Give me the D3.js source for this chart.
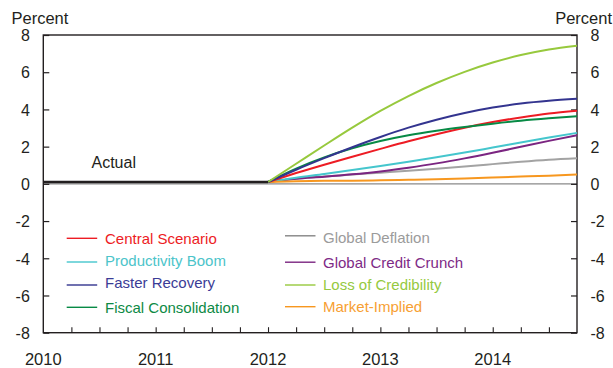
<!DOCTYPE html>
<html>
<head>
<meta charset="utf-8">
<script src="https://cdn.jsdelivr.net/npm/d3@7"></script>
<style>
  html, body { margin: 0; padding: 0; background: #fff; }
  svg { display: block; font-family: Arial, "Liberation Sans", Helvetica, sans-serif; }
</style>
</head>
<body>
<svg id="chart" width="613" height="368"></svg>
<script>
// Quarterly dates (decimal years)
const actualDates = [2010, 2010.25, 2010.5, 2010.75, 2011, 2011.25, 2011.5, 2011.75, 2012];
const actualValues = [0.1, 0.1, 0.1, 0.1, 0.1, 0.1, 0.1, 0.1, 0.1];

const projDates = [2012, 2012.25, 2012.5, 2012.75, 2013, 2013.25, 2013.5, 2013.75, 2014, 2014.25, 2014.5, 2014.75];

const centralScenario     = [0.1, 0.58, 1.03, 1.46, 1.88, 2.29, 2.67, 3.02, 3.32, 3.57, 3.78, 3.93];
const productivityBoom    = [0.1, 0.33, 0.53, 0.74, 0.96, 1.19, 1.43, 1.68, 1.95, 2.22, 2.49, 2.74];
const fasterRecovery      = [0.1, 0.76, 1.38, 1.97, 2.52, 3.02, 3.45, 3.81, 4.10, 4.32, 4.47, 4.57];
const fiscalConsolidation = [0.1, 0.82, 1.42, 1.91, 2.30, 2.61, 2.85, 3.05, 3.23, 3.39, 3.52, 3.63];
const globalDeflation     = [0.1, 0.28, 0.40, 0.50, 0.60, 0.70, 0.81, 0.93, 1.06, 1.19, 1.30, 1.38];
const globalCreditCrunch  = [0.1, 0.27, 0.38, 0.51, 0.67, 0.87, 1.10, 1.37, 1.67, 1.99, 2.31, 2.61];
const lossOfCredibility   = [0.1, 1.08, 2.06, 3.02, 3.92, 4.72, 5.42, 6.02, 6.52, 6.92, 7.22, 7.42];
const marketImplied       = [0.1, 0.14, 0.16, 0.17, 0.19, 0.22, 0.25, 0.29, 0.34, 0.39, 0.44, 0.50];

const yTicks = [8, 6, 4, 2, 0, -2, -4, -6, -8];
const yearTicks = [2010, 2011, 2012, 2013, 2014];
const quarterTicks = [2010.25, 2010.5, 2010.75, 2011, 2011.25, 2011.5, 2011.75, 2012, 2012.25, 2012.5, 2012.75,
                      2013, 2013.25, 2013.5, 2013.75, 2014, 2014.25, 2014.5];

const seriesNames  = ["Central Scenario", "Productivity Boom", "Faster Recovery", "Fiscal Consolidation",
                      "Global Deflation", "Global Credit Crunch", "Loss of Credibility", "Market-Implied"];
const seriesValues = [centralScenario, productivityBoom, fasterRecovery, fiscalConsolidation,
                      globalDeflation, globalCreditCrunch, lossOfCredibility, marketImplied];
const lineColors = ["#ed1c24", "#45c6cd", "#33348f", "#078a45", "#a3a3a3", "#7b2581", "#97c93d", "#f7971f"];
const legendLineColors = ["#ed1c24", "#45c6cd", "#33348f", "#078a45", "#858585", "#7b2581", "#97c93d", "#f7971f"];
const textColors = ["#ed1c24", "#4cc4ca", "#3b3c96", "#0d8a45", "#9b9b9b", "#7e2a86", "#95c940", "#f7a033"];

const svg = d3.select("#chart");
const plotLeft = 43.3, plotRight = 577, plotTop = 35, plotBottom = 332.7;
const axisColor = "#231f20";

const x = d3.scaleLinear().domain([2010, 2014.75]).range([plotLeft, plotRight]);
const y = d3.scaleLinear().domain([-8, 8]).range([plotBottom, plotTop]);

// zero line
svg.append("line")
  .attr("x1", plotLeft).attr("x2", plotRight)
  .attr("y1", y(0)).attr("y2", y(0))
  .attr("stroke", "#8a8a8a").attr("stroke-width", 1.2);

// frame
svg.append("rect")
  .attr("x", plotLeft).attr("y", plotTop)
  .attr("width", plotRight - plotLeft).attr("height", plotBottom - plotTop)
  .attr("fill", "none").attr("stroke", axisColor).attr("stroke-width", 1.4);

// left axis
const yLeft = d3.axisLeft(y).tickValues(yTicks).tickSize(-6).tickPadding(0);
const gl = svg.append("g").attr("transform", `translate(${plotLeft},0)`).call(yLeft);
gl.select(".domain").remove();
gl.selectAll(".tick line").attr("stroke", axisColor).attr("stroke-width", 1.2);
gl.selectAll(".tick text")
  .attr("x", 29.8 - plotLeft).attr("dy", "0.36em")
  .attr("text-anchor", "end")
  .attr("font-size", 16).attr("fill", axisColor)
  .attr("font-family", "Arial, 'Liberation Sans', sans-serif")
  .text(d => d < 0 ? "-" + Math.abs(d) : d);

// right axis
const yRight = d3.axisRight(y).tickValues(yTicks).tickSize(-6).tickPadding(0);
const gr = svg.append("g").attr("transform", `translate(${plotRight},0)`).call(yRight);
gr.select(".domain").remove();
gr.selectAll(".tick line").attr("stroke", axisColor).attr("stroke-width", 1.2);
gr.selectAll(".tick text")
  .attr("x", 590.5 - plotRight).attr("dy", "0.36em")
  .attr("text-anchor", "start")
  .attr("font-size", 16).attr("fill", axisColor)
  .attr("font-family", "Arial, 'Liberation Sans', sans-serif")
  .text(d => d < 0 ? "-" + Math.abs(d) : d);

// bottom axis: quarterly ticks pointing up, year labels
const xAxis = d3.axisBottom(x).tickValues(quarterTicks).tickSize(-5.5).tickFormat("");
const gx = svg.append("g").attr("transform", `translate(0,${plotBottom})`).call(xAxis);
gx.select(".domain").remove();
gx.selectAll(".tick line").attr("stroke", axisColor).attr("stroke-width", 1.1);

svg.append("g").selectAll("text").data(yearTicks).join("text")
  .attr("x", d => x(d)).attr("y", 365)
  .attr("text-anchor", "middle")
  .attr("font-size", 16.5).attr("fill", axisColor)
  .text(d => d);

// unit labels
svg.append("text").attr("x", 11.5).attr("y", 24).attr("font-size", 16.5).attr("fill", axisColor).text("Percent");
svg.append("text").attr("x", 612).attr("y", 24).attr("text-anchor", "end").attr("font-size", 16.5).attr("fill", axisColor).text("Percent");

// projection lines
const line = d3.line().x(d => x(d[0])).y(d => y(d[1])).curve(d3.curveMonotoneX);
const drawOrder = [4, 5, 1, 7, 0, 3, 2, 6];
svg.append("g").selectAll("path").data(drawOrder).join("path")
  .attr("d", i => line(projDates.map((t, k) => [t, seriesValues[i][k]])))
  .attr("fill", "none")
  .attr("stroke", i => lineColors[i])
  .attr("stroke-width", 2);

// actual data
svg.append("path")
  .attr("d", line(actualDates.map((t, k) => [t, actualValues[k]])))
  .attr("fill", "none").attr("stroke", axisColor).attr("stroke-width", 2.4);

svg.append("text").attr("x", 91.5).attr("y", 168).attr("font-size", 16).attr("fill", axisColor).text("Actual");

// legend
const legendPos = [
  {lx: 66.7, tx: 105, ly: 238.3, ty: 238.3},
  {lx: 66.7, tx: 105, ly: 262, ty: 261},
  {lx: 66.7, tx: 105, ly: 285, ty: 282.5},
  {lx: 66.7, tx: 105, ly: 307.3, ty: 307.7},
  {lx: 285, tx: 323, ly: 235.8, ty: 237.3},
  {lx: 285, tx: 323, ly: 262.2, ty: 262.7},
  {lx: 285, tx: 323, ly: 285, ty: 284.3},
  {lx: 285, tx: 323, ly: 306.7, ty: 306.7}
];
const lg = svg.append("g").selectAll("g").data(seriesNames).join("g");
lg.append("line")
  .attr("x1", (d, i) => legendPos[i].lx).attr("x2", (d, i) => legendPos[i].lx + 30.5)
  .attr("y1", (d, i) => legendPos[i].ly).attr("y2", (d, i) => legendPos[i].ly)
  .attr("stroke", (d, i) => legendLineColors[i]).attr("stroke-width", 1.4);
lg.append("text")
  .attr("x", (d, i) => legendPos[i].tx).attr("y", (d, i) => legendPos[i].ty)
  .attr("dy", "0.36em")
  .attr("font-size", 15).attr("fill", (d, i) => textColors[i])
  .text(d => d);
</script>
</body>
</html>
